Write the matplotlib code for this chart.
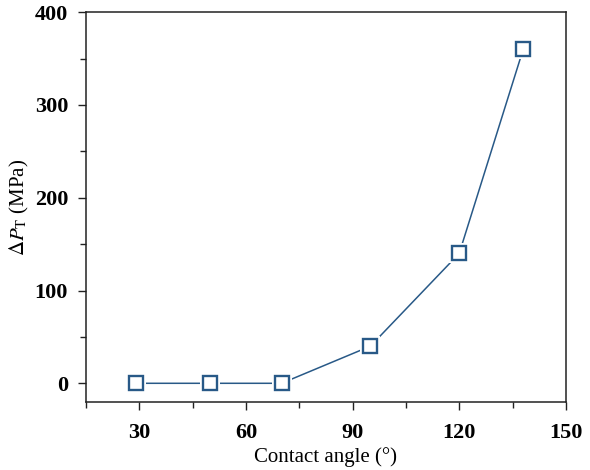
import numpy as np
import matplotlib
matplotlib.use('Agg')
import matplotlib.pyplot as plt
from matplotlib.ticker import MultipleLocator

# data
contact_angle = [29, 50, 70, 95, 120, 138]
delta_p = [0, 0, 0, 40, 140, 360]

xticks = [30, 60, 90, 120, 150]
yticks = [0, 100, 200, 300, 400]

plt.rcParams['font.family'] = ['Liberation Serif', 'DejaVu Serif']
plt.rcParams['mathtext.fontset'] = 'stix'

col = '#285987'

fig = plt.figure(figsize=(5.9, 4.7), dpi=100)
ax = fig.add_axes([0.146, 0.145, 0.813, 0.829])

ax.plot(contact_angle, delta_p, '-', color=col, lw=1.1, zorder=2)
# white halo so the line stops short of each marker
ax.plot(contact_angle, delta_p, 's', ms=14, mfc='white', mec='white', mew=0, zorder=3)
ax.plot(contact_angle, delta_p, 's', ms=9.5, mfc='white', mec=col, mew=1.7, zorder=4)

ax.set_xlim(15, 150)
ax.set_ylim(-20, 400)
ax.set_xticks(xticks)
ax.set_yticks(yticks)
ax.xaxis.set_minor_locator(MultipleLocator(15))
ax.yaxis.set_minor_locator(MultipleLocator(50))

ax.tick_params(which='both', direction='out', top=False, right=False, width=1.0, color='#222222')
ax.tick_params(which='major', length=6)
ax.tick_params(which='minor', length=4)
ax.tick_params(axis='x', which='major', pad=9)
ax.tick_params(axis='y', which='major', pad=7)
for lab in ax.get_xticklabels() + ax.get_yticklabels():
    lab.set_fontweight('bold')
    lab.set_fontsize(16)
for sp in ax.spines.values():
    sp.set_linewidth(1.1)
    sp.set_color('#222222')

ax.set_xlabel('Contact angle (°)', fontsize=15, labelpad=3)
ax.set_ylabel(r'$\Delta P_{\mathrm{T}}$ (MPa)', fontsize=15, labelpad=3)

fig.savefig('out.png', dpi=100)
